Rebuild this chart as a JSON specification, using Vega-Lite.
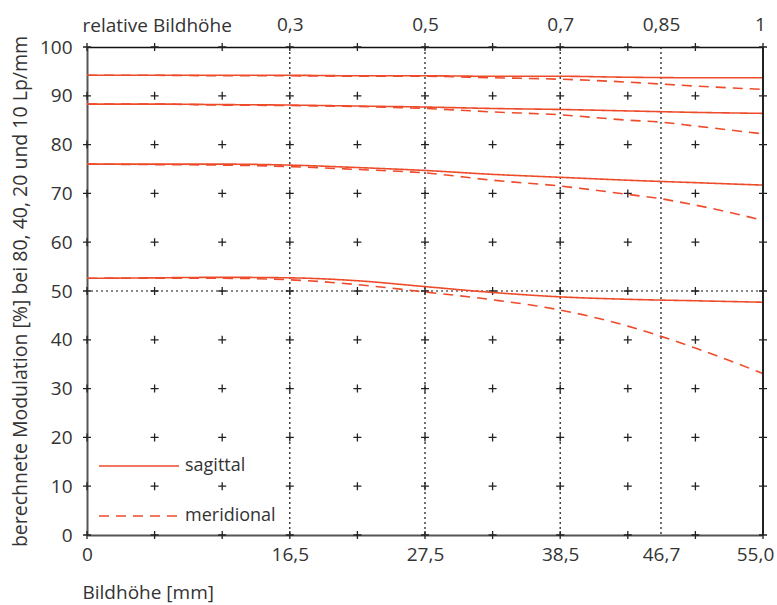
{
  "$schema": "https://vega.github.io/schema/vega-lite/v6.json",
  "width": 676,
  "height": 488,
  "autosize": {"type": "none"},
  "padding": {"left": 87, "top": 47, "right": 14, "bottom": 70},
  "background": "white",
  "config": {
    "view": {"stroke": null},
    "font": "Open Sans",
    "axis": {"labelFont": "Open Sans", "titleFont": "Open Sans", "labelColor": "#333", "titleColor": "#333", "titleFontWeight": "normal", "grid": false, "ticks": false},
    "legend": {"labelFont": "Open Sans"}
  },
  "resolve": {"axis": {"x": "independent", "y": "independent"}},
  "layer": [
    {
      "data": {"values": [{"gx": 16.5}, {"gx": 27.5}, {"gx": 38.5}, {"gx": 46.7}]},
      "mark": {"type": "rule", "color": "#111", "strokeWidth": 1.2, "strokeDash": [2, 3]},
      "encoding": {
        "x": {"field": "gx", "type": "quantitative", "scale": {"domain": [0, 55], "nice": false, "zero": false},
          "axis": {"orient": "top", "values": [16.5, 27.5, 38.5, 46.7, 55], "domainColor": "#111", "domainWidth": 1.5,
            "labelExpr": "datum.value==16.5?'0,3':datum.value==27.5?'0,5':datum.value==38.5?'0,7':datum.value==46.7?'0,85':'1'",
            "labelFontSize": 19, "labelPadding": 13, "labelFlush": false,
            "labelOffset": {"condition": {"test": "datum.value==55", "value": -3}, "value": 0},
            "title": "relative Bildhöhe", "titleFontSize": 19, "titleX": -5, "titleY": -16, "titleAlign": "left", "titleBaseline": "alphabetic"}}
      }
    },
    {
      "data": {"values": [{"gy": 50}]},
      "mark": {"type": "rule", "color": "#111", "strokeWidth": 1.2, "strokeDash": [2, 3]},
      "encoding": {
        "y": {"field": "gy", "type": "quantitative", "scale": {"domain": [0, 100], "nice": false}, "axis": null}
      }
    },
    {
      "data": {"values": [
        {"gx": 0, "gy": [0,10,20,30,40,50,60,70,80,90,100]},
        {"gx": 5.5, "gy": [0,10,20,30,40,50,60,70,80,90,100]},
        {"gx": 11, "gy": [0,10,20,30,40,50,60,70,80,90,100]},
        {"gx": 16.5, "gy": [0,10,20,30,40,50,60,70,80,90,100]},
        {"gx": 22, "gy": [0,10,20,30,40,50,60,70,80,90,100]},
        {"gx": 27.5, "gy": [0,10,20,30,40,50,60,70,80,90,100]},
        {"gx": 33, "gy": [0,10,20,30,40,50,60,70,80,90,100]},
        {"gx": 38.5, "gy": [0,10,20,30,40,50,60,70,80,90,100]},
        {"gx": 44, "gy": [0,10,20,30,40,50,60,70,80,90,100]},
        {"gx": 49.5, "gy": [0,10,20,30,40,50,60,70,80,90,100]},
        {"gx": 55, "gy": [0,10,20,30,40,50,60,70,80,90,100]}
      ]},
      "transform": [{"flatten": ["gy"]}],
      "mark": {"type": "point", "shape": "M-1,0L1,0M0,-1L0,1", "filled": false, "stroke": "#222", "strokeWidth": 1.3, "size": 64, "opacity": 1},
      "encoding": {
        "x": {"field": "gx", "type": "quantitative",
          "axis": {"orient": "bottom", "values": [0, 16.5, 27.5, 38.5, 46.7, 55], "domainColor": "#555", "domainWidth": 2,
            "labelExpr": "datum.value==0?'0':replace(format(datum.value,'.1f'),'.',',')",
            "labelFontSize": 19, "labelPadding": 10, "labelFlush": false,
            "labelOffset": {"condition": {"test": "datum.value==55", "value": -8}, "value": 0},
            "title": "Bildhöhe [mm]", "titleFontSize": 19, "titleX": -5, "titleY": 63, "titleAlign": "left", "titleBaseline": "alphabetic"}},
        "y": {"field": "gy", "type": "quantitative",
          "axis": {"orient": "left", "values": [0,10,20,30,40,50,60,70,80,90,100], "domainColor": "#555", "domainWidth": 2,
            "labelFontSize": 19, "labelPadding": 15, "labelBaseline": "middle",
            "title": "berechnete Modulation [%] bei 80, 40, 20 und 10 Lp/mm", "titleFontSize": 19.5, "titlePadding": 9}}
      }
    },
    {
      "data": {"values": [
        {"x": 0, "v": 94.2, "f": "10", "t": "sagittal"},
        {"x": 5.5, "v": 94.2, "f": "10", "t": "sagittal"},
        {"x": 11, "v": 94.2, "f": "10", "t": "sagittal"},
        {"x": 16.5, "v": 94.2, "f": "10", "t": "sagittal"},
        {"x": 22, "v": 94.1, "f": "10", "t": "sagittal"},
        {"x": 27.5, "v": 94.1, "f": "10", "t": "sagittal"},
        {"x": 33, "v": 94.0, "f": "10", "t": "sagittal"},
        {"x": 38.5, "v": 94.0, "f": "10", "t": "sagittal"},
        {"x": 44, "v": 93.8, "f": "10", "t": "sagittal"},
        {"x": 49.5, "v": 93.7, "f": "10", "t": "sagittal"},
        {"x": 55, "v": 93.7, "f": "10", "t": "sagittal"},
        {"x": 0, "v": 94.2, "f": "10", "t": "meridional"},
        {"x": 5.5, "v": 94.2, "f": "10", "t": "meridional"},
        {"x": 11, "v": 94.1, "f": "10", "t": "meridional"},
        {"x": 16.5, "v": 94.1, "f": "10", "t": "meridional"},
        {"x": 22, "v": 94.0, "f": "10", "t": "meridional"},
        {"x": 27.5, "v": 94.0, "f": "10", "t": "meridional"},
        {"x": 33, "v": 93.7, "f": "10", "t": "meridional"},
        {"x": 38.5, "v": 93.4, "f": "10", "t": "meridional"},
        {"x": 44, "v": 92.8, "f": "10", "t": "meridional"},
        {"x": 46.7, "v": 92.4, "f": "10", "t": "meridional"},
        {"x": 49.5, "v": 92.0, "f": "10", "t": "meridional"},
        {"x": 55, "v": 91.3, "f": "10", "t": "meridional"},
        {"x": 0, "v": 88.3, "f": "20", "t": "sagittal"},
        {"x": 5.5, "v": 88.3, "f": "20", "t": "sagittal"},
        {"x": 11, "v": 88.2, "f": "20", "t": "sagittal"},
        {"x": 16.5, "v": 88.1, "f": "20", "t": "sagittal"},
        {"x": 22, "v": 87.9, "f": "20", "t": "sagittal"},
        {"x": 27.5, "v": 87.7, "f": "20", "t": "sagittal"},
        {"x": 33, "v": 87.4, "f": "20", "t": "sagittal"},
        {"x": 38.5, "v": 87.2, "f": "20", "t": "sagittal"},
        {"x": 44, "v": 86.9, "f": "20", "t": "sagittal"},
        {"x": 49.5, "v": 86.6, "f": "20", "t": "sagittal"},
        {"x": 55, "v": 86.4, "f": "20", "t": "sagittal"},
        {"x": 0, "v": 88.3, "f": "20", "t": "meridional"},
        {"x": 5.5, "v": 88.3, "f": "20", "t": "meridional"},
        {"x": 11, "v": 88.1, "f": "20", "t": "meridional"},
        {"x": 16.5, "v": 88.0, "f": "20", "t": "meridional"},
        {"x": 22, "v": 87.8, "f": "20", "t": "meridional"},
        {"x": 27.5, "v": 87.4, "f": "20", "t": "meridional"},
        {"x": 33, "v": 86.7, "f": "20", "t": "meridional"},
        {"x": 38.5, "v": 86.1, "f": "20", "t": "meridional"},
        {"x": 44, "v": 85.0, "f": "20", "t": "meridional"},
        {"x": 46.7, "v": 84.6, "f": "20", "t": "meridional"},
        {"x": 49.5, "v": 83.8, "f": "20", "t": "meridional"},
        {"x": 55, "v": 82.2, "f": "20", "t": "meridional"},
        {"x": 0, "v": 76.0, "f": "40", "t": "sagittal"},
        {"x": 5.5, "v": 76.0, "f": "40", "t": "sagittal"},
        {"x": 11, "v": 76.0, "f": "40", "t": "sagittal"},
        {"x": 16.5, "v": 75.8, "f": "40", "t": "sagittal"},
        {"x": 22, "v": 75.3, "f": "40", "t": "sagittal"},
        {"x": 27.5, "v": 74.7, "f": "40", "t": "sagittal"},
        {"x": 33, "v": 73.9, "f": "40", "t": "sagittal"},
        {"x": 38.5, "v": 73.3, "f": "40", "t": "sagittal"},
        {"x": 44, "v": 72.7, "f": "40", "t": "sagittal"},
        {"x": 49.5, "v": 72.2, "f": "40", "t": "sagittal"},
        {"x": 55, "v": 71.7, "f": "40", "t": "sagittal"},
        {"x": 0, "v": 76.0, "f": "40", "t": "meridional"},
        {"x": 5.5, "v": 75.9, "f": "40", "t": "meridional"},
        {"x": 11, "v": 75.8, "f": "40", "t": "meridional"},
        {"x": 16.5, "v": 75.5, "f": "40", "t": "meridional"},
        {"x": 22, "v": 74.9, "f": "40", "t": "meridional"},
        {"x": 27.5, "v": 74.2, "f": "40", "t": "meridional"},
        {"x": 33, "v": 72.7, "f": "40", "t": "meridional"},
        {"x": 38.5, "v": 71.5, "f": "40", "t": "meridional"},
        {"x": 44, "v": 69.8, "f": "40", "t": "meridional"},
        {"x": 46.7, "v": 68.9, "f": "40", "t": "meridional"},
        {"x": 49.5, "v": 67.6, "f": "40", "t": "meridional"},
        {"x": 55, "v": 64.5, "f": "40", "t": "meridional"},
        {"x": 0, "v": 52.6, "f": "80", "t": "sagittal"},
        {"x": 5.5, "v": 52.7, "f": "80", "t": "sagittal"},
        {"x": 11, "v": 52.8, "f": "80", "t": "sagittal"},
        {"x": 16.5, "v": 52.7, "f": "80", "t": "sagittal"},
        {"x": 22, "v": 52.1, "f": "80", "t": "sagittal"},
        {"x": 27.5, "v": 50.9, "f": "80", "t": "sagittal"},
        {"x": 33, "v": 49.7, "f": "80", "t": "sagittal"},
        {"x": 38.5, "v": 48.8, "f": "80", "t": "sagittal"},
        {"x": 44, "v": 48.3, "f": "80", "t": "sagittal"},
        {"x": 49.5, "v": 48.0, "f": "80", "t": "sagittal"},
        {"x": 55, "v": 47.7, "f": "80", "t": "sagittal"},
        {"x": 0, "v": 52.6, "f": "80", "t": "meridional"},
        {"x": 5.5, "v": 52.6, "f": "80", "t": "meridional"},
        {"x": 11, "v": 52.6, "f": "80", "t": "meridional"},
        {"x": 16.5, "v": 52.3, "f": "80", "t": "meridional"},
        {"x": 22, "v": 51.3, "f": "80", "t": "meridional"},
        {"x": 27.5, "v": 49.8, "f": "80", "t": "meridional"},
        {"x": 33, "v": 48.2, "f": "80", "t": "meridional"},
        {"x": 38.5, "v": 46.1, "f": "80", "t": "meridional"},
        {"x": 44, "v": 42.8, "f": "80", "t": "meridional"},
        {"x": 46.7, "v": 40.7, "f": "80", "t": "meridional"},
        {"x": 49.5, "v": 38.3, "f": "80", "t": "meridional"},
        {"x": 55, "v": 33.1, "f": "80", "t": "meridional"}
      ]},
      "mark": {"type": "line", "color": "#ee4b2b", "strokeWidth": 1.6, "interpolate": "monotone"},
      "encoding": {
        "x": {"field": "x", "type": "quantitative", "axis": null},
        "y": {"field": "v", "type": "quantitative", "axis": null},
        "detail": {"field": "f"},
        "strokeDash": {"field": "t", "type": "nominal",
          "scale": {"domain": ["sagittal", "meridional"], "range": [[1, 0], [10, 7]]},
          "legend": {"orient": "none", "legendX": 11, "legendY": 378, "title": null, "symbolType": "stroke", "symbolSize": 6400,
            "symbolStrokeColor": "#ee4b2b", "symbolStrokeWidth": 1.6, "labelFontSize": 18, "labelColor": "#333", "labelOffset": 5, "rowPadding": -7}}
      }
    },
    {
      "data": {"values": [{"gx": 55}]},
      "mark": {"type": "rule", "color": "#222", "strokeWidth": 2},
      "encoding": {"x": {"field": "gx", "type": "quantitative", "axis": null}}
    }
  ]
}
